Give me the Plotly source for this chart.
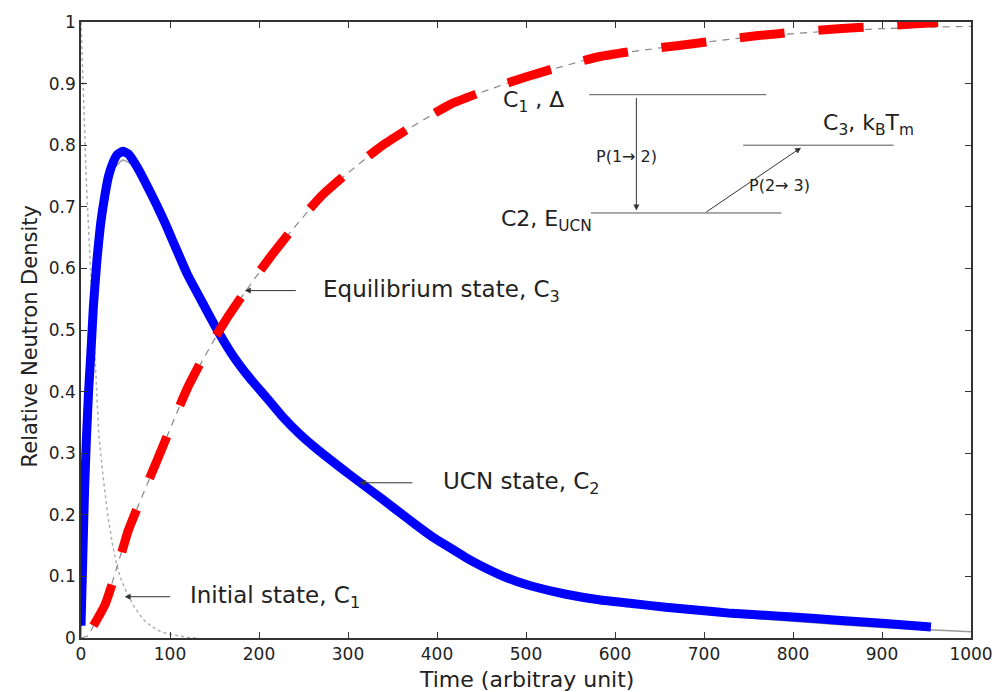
import plotly.graph_objects as go

# ---------------- data ----------------
t_c2 = [0, 2, 4, 6, 8.5, 11, 14, 18, 22, 27, 31, 36, 41, 47, 53, 60, 66, 75, 85, 95, 103,
        112, 119, 128, 137, 152, 170, 189, 208, 226, 245, 264, 302, 339, 358, 376, 395,
        414, 432, 451, 470, 489, 507, 545, 582, 619, 657, 694, 731, 769, 800, 850, 900, 955]
c2 = [0.02, 0.13, 0.24, 0.32, 0.40, 0.46, 0.54, 0.615, 0.672, 0.72, 0.75, 0.772, 0.785,
      0.79, 0.786, 0.772, 0.757, 0.732, 0.703, 0.672, 0.645, 0.615, 0.592, 0.567, 0.543,
      0.503, 0.46, 0.423, 0.391, 0.36, 0.332, 0.308, 0.265, 0.225, 0.204, 0.184, 0.164,
      0.147, 0.131, 0.116, 0.103, 0.092, 0.084, 0.071, 0.062, 0.056, 0.05, 0.045, 0.04,
      0.037, 0.034, 0.029, 0.024, 0.018]

t_c2_fit = [0, 5, 11, 18, 27, 36, 47, 60, 85, 120, 152, 189, 226, 264, 302, 376, 432,
            507, 582, 657, 731, 800, 900, 1000]
c2_fit = [0.0, 0.28, 0.45, 0.605, 0.712, 0.76, 0.776, 0.766, 0.705, 0.59, 0.505, 0.425,
          0.362, 0.309, 0.265, 0.181, 0.128, 0.08, 0.058, 0.045, 0.035, 0.027, 0.017, 0.01]

t_c3 = [14, 27, 40, 53, 70, 86, 103, 120, 141, 163, 188, 214, 242, 271, 305, 339, 377,
        416, 457, 498, 540, 583, 627, 672, 716, 761, 806, 851, 895, 938, 963]
c3 = [0.02, 0.054, 0.11, 0.174, 0.235, 0.29, 0.35, 0.407, 0.465, 0.517, 0.57, 0.621,
      0.672, 0.719, 0.762, 0.80, 0.835, 0.867, 0.89, 0.91, 0.928, 0.944, 0.954, 0.962,
      0.97, 0.978, 0.984, 0.989, 0.993, 0.997, 0.999]

t_c3_fit = [0, 8, 14, 27, 53, 86, 120, 163, 214, 271, 339, 416, 498, 583, 672, 761, 851,
            938, 1000]
c3_fit = [0.0, 0.004, 0.02, 0.054, 0.174, 0.29, 0.407, 0.517, 0.621, 0.719, 0.80, 0.867,
          0.91, 0.944, 0.962, 0.977, 0.986, 0.991, 0.993]

t_c1 = [0, 2, 4, 6, 8, 10, 13, 16, 20, 25, 30, 35, 40, 45, 50, 60, 70, 80, 90, 100,
        110, 120, 130]
c1 = [1.0, 0.9, 0.81, 0.74, 0.68, 0.61, 0.53, 0.45, 0.33, 0.26, 0.2, 0.155, 0.12, 0.095,
      0.078, 0.05, 0.03, 0.018, 0.01, 0.006, 0.003, 0.001, 0.0]

x_ticks = list(range(0, 1001, 100))
y_ticks = [0, 0.1, 0.2, 0.3, 0.4, 0.5, 0.6, 0.7, 0.8, 0.9, 1.0]
y_tick_text = ["0", "0.1", "0.2", "0.3", "0.4", "0.5", "0.6", "0.7", "0.8", "0.9", "1"]

FONT = "DejaVu Sans"
TXT = "#222222"
AX = "#333333"

fig = go.Figure()
fig.add_trace(go.Scatter(x=t_c1, y=c1, mode="lines", line=dict(color="#b0b0b0", width=1.5, dash="dot"),
                         hoverinfo="skip", showlegend=False))
fig.add_trace(go.Scatter(x=t_c2_fit, y=c2_fit, mode="lines", line=dict(color="#999999", width=1.5, shape="spline", smoothing=0.4),
                         hoverinfo="skip", showlegend=False))
fig.add_trace(go.Scatter(x=t_c3_fit, y=c3_fit, mode="lines", line=dict(color="#888888", width=1.2, dash="7px,6px", shape="spline", smoothing=0.4),
                         hoverinfo="skip", showlegend=False))
fig.add_trace(go.Scatter(x=t_c2, y=c2, mode="lines", line=dict(color="#0000ff", width=9, shape="spline", smoothing=0.4),
                         showlegend=False, name="UCN state, C2"))
fig.add_trace(go.Scatter(x=t_c3, y=c3, mode="lines", line=dict(color="#ff0000", width=9, dash="45px,34px", shape="spline", smoothing=0.4),
                         showlegend=False, name="Equilibrium state, C3"))

ann = []
def label(x, y, text, size=23):
    ann.append(dict(x=x, y=y, xref="x", yref="y", text=text, showarrow=False,
                    xanchor="left", yanchor="middle", font=dict(family=FONT, size=size, color=TXT)))

def arrow(x0, y0, x1, y1):
    ann.append(dict(x=x1, y=y1, ax=x0, ay=y0, xref="x", yref="y", axref="x", ayref="y",
                    text="", showarrow=True, arrowhead=2, arrowsize=1.2, arrowwidth=1,
                    arrowcolor=AX))

# curve labels
label(120, 0.067, "Initial state, C<sub>1</sub>")
arrow(102, 0.067, 49, 0.067)
label(270, 0.564, "Equilibrium state, C<sub>3</sub>")
arrow(243, 0.564, 184, 0.564)
label(405, 0.252, "UCN state, C<sub>2</sub>")
arrow(374, 0.252, 313, 0.252)

# level diagram
label(472, 0.871, "C<sub>1</sub> , Δ", 22)
label(470, 0.677, "C2, E<sub>UCN</sub>", 22)
label(831, 0.834, "C<sub>3</sub>, k<sub>B</sub>T<sub>m</sub>", 22)
label(576, 0.781, "P(1→ 2)", 16)
label(748, 0.735, "P(2→ 3)", 16)
arrow(624, 0.879, 624, 0.694)
arrow(701, 0.690, 809, 0.796)

# axis titles
ann.append(dict(x=0.5, y=-0.068, xref="paper", yref="paper", text="Time (arbitray unit)",
                showarrow=False, xanchor="center", yanchor="middle",
                font=dict(family=FONT, size=22, color=TXT)))
ann.append(dict(x=-0.057, y=0.49, xref="paper", yref="paper", text="Relative Neutron Density",
                showarrow=False, xanchor="center", yanchor="middle", textangle=-90,
                font=dict(family=FONT, size=21, color=TXT)))

shapes = []
for (xa, xb, yy) in [(571, 770, 0.882), (573, 787, 0.690), (744, 913, 0.800)]:
    shapes.append(dict(type="line", xref="x", yref="y", x0=xa, x1=xb, y0=yy, y1=yy,
                       line=dict(color="#555555", width=1)))

fig.update_layout(
    width=1005, height=692,
    margin=dict(l=81, r=32, t=12, b=54),
    paper_bgcolor="white", plot_bgcolor="white",
    annotations=ann, shapes=shapes,
    xaxis=dict(range=[0, 1000], tickvals=x_ticks, ticks="inside", ticklen=6, tickcolor=AX,
               showline=True, linecolor=AX, linewidth=1.5, mirror="ticks", showgrid=False,
               zeroline=False, tickfont=dict(family=FONT, size=17, color=TXT)),
    yaxis=dict(range=[0, 1], tickvals=y_ticks, ticktext=y_tick_text, ticks="inside", ticklen=6,
               tickcolor=AX, showline=True, linecolor=AX, linewidth=1.5, mirror="ticks",
               showgrid=False, zeroline=False, tickfont=dict(family=FONT, size=17, color=TXT)),
)

fig.write_html("out.html")
